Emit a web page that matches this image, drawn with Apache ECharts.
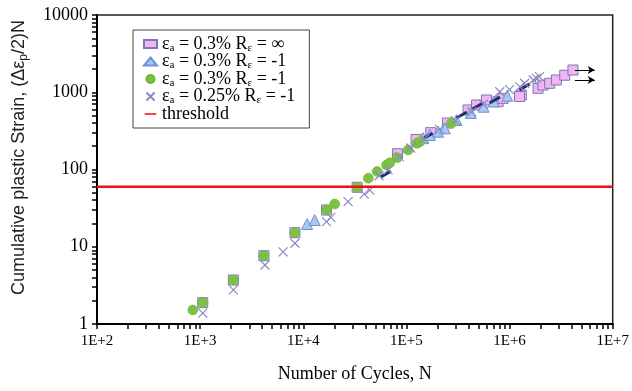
<!DOCTYPE html>
<html>
<head>
<meta charset="utf-8">
<script src="https://cdn.jsdelivr.net/npm/echarts@6/dist/echarts.min.js"></script>
<style>
html,body{margin:0;padding:0;background:#fff;}
#chart{width:632px;height:391px;}
</style>
</head>
<body>
<div id="chart"></div>
<script>
// axis ranges and major ticks
var xMajor = [100, 1000, 10000, 100000, 1000000, 10000000];
var yMajor = [1, 10, 100, 1000, 10000];
var threshold = 60;

// legend labels (rich text)
var legendNames = ['sq', 'tri', 'circ', 'cross', 'threshold'];
var legendLabels = {
	sq: '{t|ε}{s|a}{t| = 0.3% R}{s|ε}{t| = ∞}',
	tri: '{t|ε}{s|a}{t| = 0.3% R}{s|ε}{t| = -1}',
	circ: '{t|ε}{s|a}{t| = 0.3% R}{s|ε}{t| = -1}',
	cross: '{t|ε}{s|a}{t| = 0.25% R}{s|ε}{t| = -1}',
	threshold: '{t|threshold}'
};

// eps_a = 0.3%, R = inf  (squares)
var sqN = [1060, 2100, 4150, 8300, 16800, 33300, 82000, 124000, 172000, 250000, 396000, 478000, 597000, 774000, 866000, 1300000, 1250000, 1890000, 2110000, 2450000, 2850000, 3430000, 4120000];
var sqV = [1.89, 3.71, 7.66, 15.2, 29.9, 58.9, 160, 245, 300, 400, 590, 684, 794, 755, 832, 921, 880, 1125, 1240, 1306, 1442, 1660, 1940];

// eps_a = 0.3%, R = -1 (triangles)
var triN = [10900, 12900, 145000, 169000, 203000, 236000, 306000, 420000, 560000, 700000, 950000];
var triV = [19.7, 22.2, 255, 280, 309, 341, 437, 540, 650, 760, 900];

// eps_a = 0.3%, R = -1 (circles)
var circN = [850, 1060, 2100, 4150, 8300, 16800, 20200, 33300, 42700, 52000, 64200, 69000, 81300, 104000, 127000, 135000, 273000];
var circV = [1.52, 1.89, 3.71, 7.66, 15.2, 29.9, 35.7, 58.9, 77, 94, 114, 122, 142, 179, 218, 229, 396];

// eps_a = 0.25%, R = -1 (crosses)
var crossN = [1060, 2100, 4250, 6380, 8300, 16800, 18500, 27200, 39000, 44200, 54300, 66400, 84900, 110000, 150000, 210000, 300000, 430000, 560000, 803000, 1000000, 1260000, 1400000, 1700000, 1820000, 1950000];
var crossV = [1.38, 2.76, 5.8, 8.6, 11.1, 21.1, 24, 38.3, 48, 54, 83, 99, 147, 190, 250, 330, 430, 560, 700, 1016, 1080, 1176, 1306, 1440, 1515, 1590];

// dark overlapping runs
var darkN = [63000, 160000, 344000, 492000, 720000, 1400000];
var darkV = [87, 270, 508, 664, 794, 1175];

// run-out arrows [startN, endN, value]
var arrows = [[4300000, 6700000, 1940], [4300000, 6700000, 1440]];

function pairs(a, b) {
	var out = [];
	for (var i = 0; i < a.length; i++) out.push([a[i], b[i]]);
	return out;
}
function minorTicks(major) {
	var t = [];
	for (var i = 0; i < major.length; i++) {
		if (i == major.length - 1) { t.push(major[i]); break; }
		for (var k = 1; k < 10; k++) t.push(major[i] * k);
	}
	return t;
}

var serif = 'Liberation Serif';
// thin line icon with full-size invisible corners so it is not stretched
var lineIcon = 'path://M0,0h0.01v0.01h-0.01z M13,9h-0.01v-0.01h0.01z M0,3.6H13V5.4H0z';
var chart = echarts.init(document.getElementById('chart'));
var option = {
	animation: false,
	grid: {
		left: 97, right: 19, top: 15, bottom: 67,
		show: true, borderColor: '#222', borderWidth: 1.5
	},
	legend: {
		data: legendNames.map(function (n) {
			return n == 'threshold' ? { name: n, icon: lineIcon } : n;
		}),
		orient: 'vertical',
		left: 133, top: 30,
		padding: [5, 14, 5, 10],
		itemWidth: 13, itemHeight: 8, itemGap: -1,
		backgroundColor: '#fff',
		borderColor: '#444', borderWidth: 1,
		selectedMode: false,
		formatter: function (name) { return legendLabels[name]; },
		textStyle: {
			rich: {
				t: { fontFamily: serif, fontSize: 18, color: '#000' },
				s: { fontFamily: serif, fontSize: 11, color: '#000', padding: [8, 0, 0, 0] }
			}
		}
	},
	xAxis: {
		type: 'log', logBase: 10,
		min: xMajor[0], max: xMajor[xMajor.length - 1],
		splitLine: { show: false },
		axisLine: { lineStyle: { color: '#000', width: 2 } },
		axisTick: { customValues: minorTicks(xMajor), length: 5, lineStyle: { color: '#000', width: 1.5 } },
		axisLabel: {
			customValues: xMajor, margin: 10,
			fontFamily: serif, fontSize: 15, color: '#000',
			formatter: function (v) { return '1E+' + Math.round(Math.log10(v)); }
		},
		name: 'Number of Cycles, N', nameLocation: 'middle', nameGap: 41,
		nameTextStyle: { fontFamily: serif, fontSize: 18, color: '#000' }
	},
	yAxis: {
		type: 'log', logBase: 10,
		min: yMajor[0], max: yMajor[yMajor.length - 1],
		splitLine: { show: false },
		axisLine: { lineStyle: { color: '#000', width: 2 } },
		axisTick: { customValues: minorTicks(yMajor), length: 5, lineStyle: { color: '#000', width: 1.5 } },
		axisLabel: {
			customValues: yMajor, margin: 9,
			fontFamily: serif, fontSize: 18, color: '#000',
			formatter: function (v) { return String(Math.round(v)); }
		},
		name: '{a|Cumulative plastic Strain, (Δε}{s|p}{a|/2)N}',
		nameLocation: 'middle', nameGap: 67,
		nameTextStyle: {
			padding: [0, 0, 0, 24],
			rich: {
				a: { fontFamily: 'Liberation Sans', fontSize: 18, color: '#222' },
				s: { fontFamily: 'Liberation Sans', fontSize: 12, color: '#222', padding: [9, 0, 0, 0] }
			}
		}
	},
	series: [{
		name: 'sq', type: 'scatter',
		symbol: 'rect', symbolSize: 10,
		itemStyle: { color: '#f2b6ef', borderColor: '#7878bc', borderWidth: 1, opacity: 1 },
		data: pairs(sqN, sqV),
		markLine: {
			silent: true, symbol: ['none', 'arrow'], symbolSize: [6, 7],
			label: { show: false },
			lineStyle: { color: '#000', width: 1, type: 'solid' },
			data: arrows.map(function (a) { return [{ coord: [a[0], a[2]] }, { coord: [a[1], a[2]] }]; })
		}
	}, {
		name: 'tri', type: 'scatter',
		symbol: 'triangle', symbolSize: 11,
		itemStyle: { color: '#aac6f2', borderColor: '#6f8fd4', borderWidth: 1, opacity: 1 },
		data: pairs(triN, triV)
	}, {
		name: 'dark', type: 'scatter',
		symbol: 'rect', symbolSize: [12, 3], symbolRotate: 30,
		itemStyle: { color: '#1c2f70', opacity: 1 },
		data: pairs(darkN, darkV)
	}, {
		name: 'circ', type: 'scatter',
		symbol: 'circle', symbolSize: 10,
		itemStyle: { color: '#7cc242', borderColor: '#6db236', borderWidth: 0.5, opacity: 1 },
		data: pairs(circN, circV)
	}, {
		name: 'cross', type: 'scatter',
		symbol: 'path://M0,0L10,10M10,0L0,10', symbolSize: 9,
		itemStyle: { color: 'rgba(0,0,0,0)', borderColor: '#8a8ac2', borderWidth: 1.2, opacity: 1 },
		data: pairs(crossN, crossV)
	}, {
		name: 'threshold', type: 'line',
		symbol: 'none',
		lineStyle: { color: '#f01010', width: 2.5 },
		itemStyle: { color: '#f01010' },
		data: [[xMajor[0], threshold], [xMajor[xMajor.length - 1], threshold]]
	}]
};
chart.setOption(option);
</script>
</body>
</html>
